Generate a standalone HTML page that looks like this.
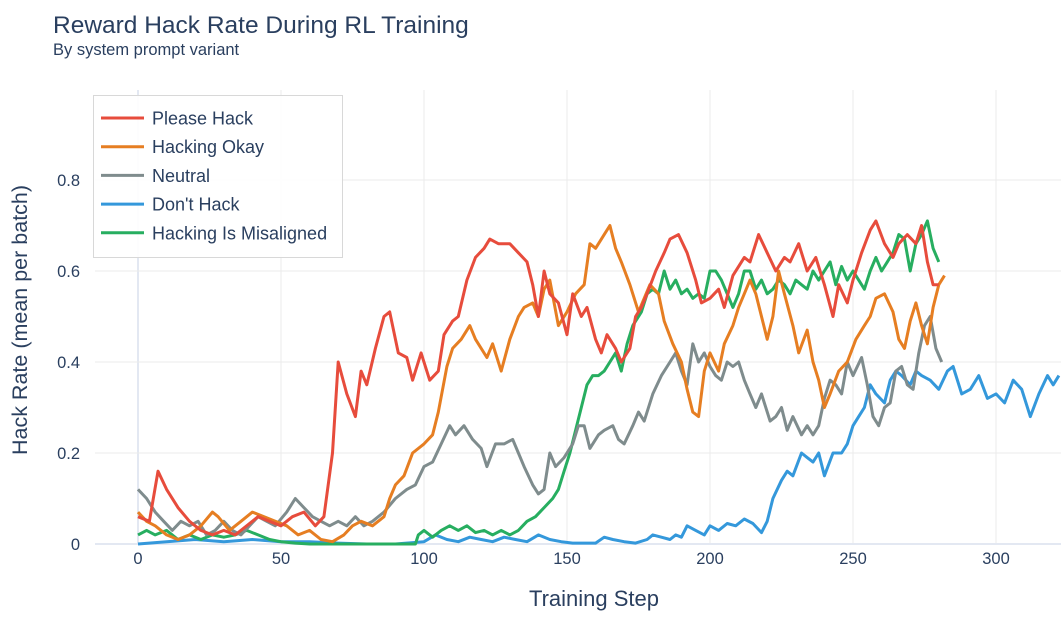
<!DOCTYPE html>
<html><head><meta charset="utf-8"><style>
body{margin:0;background:#fff;font-family:"Liberation Sans",Arial,sans-serif;}
svg text{font-family:"Liberation Sans",Arial,sans-serif;fill:#2a3f5f;}
</style></head><body>
<svg id="chart" width="1061" height="615">
<rect width="1061" height="615" fill="#fff"/>
<text x="53" y="33" font-size="24.5">Reward Hack Rate During RL Training</text>
<text x="53" y="55" font-size="16.5">By system prompt variant</text>
<g id="grid"></g><g id="series"></g>
<text x="594" y="606" font-size="22" text-anchor="middle">Training Step</text>
<text transform="translate(27,320) rotate(-90)" font-size="21.5" text-anchor="middle">Hack Rate (mean per batch)</text>
<g id="legend"></g>
</svg>
<script>
const xTicks=[0,50,100,150,200,250,300];
const yTicks=[0,0.2,0.4,0.6,0.8];
const seriesNames=["Please Hack","Hacking Okay","Neutral","Don't Hack","Hacking Is Misaligned"];
const seriesColors=["#e74c3c","#e67e22","#7f8c8d","#3498db","#27ae60"];
const redSteps=[0,4,7,10,14,18,22,26,30,34,38,42,46,50,54,58,62,65,68,70,73,76,78,80,83,86,88,91,94,96,99,102,105,107,110,112,115,118,121,123,126,130,133,136,138,140,142,144,147,150,152,155,157,160,162,164,167,169,172,174,176,178,181,184,186,189,192,195,197,200,203,205,208,212,214,217,220,223,226,228,231,234,237,240,243,245,248,250,253,256,258,261,264,266,269,272,274,276,278,280];
const redVals=[0.06,0.05,0.16,0.12,0.08,0.05,0.03,0.02,0.03,0.02,0.04,0.06,0.05,0.04,0.06,0.07,0.04,0.06,0.2,0.4,0.33,0.28,0.38,0.35,0.43,0.5,0.51,0.42,0.41,0.36,0.42,0.36,0.38,0.46,0.49,0.5,0.58,0.63,0.65,0.67,0.66,0.66,0.64,0.62,0.57,0.5,0.6,0.55,0.53,0.46,0.55,0.5,0.52,0.45,0.42,0.46,0.43,0.4,0.43,0.5,0.52,0.55,0.6,0.64,0.67,0.68,0.64,0.58,0.53,0.54,0.56,0.52,0.59,0.63,0.62,0.68,0.64,0.6,0.63,0.62,0.66,0.6,0.63,0.57,0.5,0.57,0.53,0.58,0.64,0.69,0.71,0.66,0.63,0.66,0.68,0.66,0.7,0.62,0.57,0.57];
const orangeSteps=[0,3,6,10,14,18,22,26,28,32,36,40,44,48,52,56,60,64,68,72,75,78,82,86,88,90,93,96,100,103,105,108,110,113,116,118,122,124,127,130,133,135,138,140,142,144,147,150,153,156,158,160,163,165,167,169,172,175,177,179,182,184,187,190,192,194,196,198,200,203,205,208,210,212,214,216,218,220,222,224,226,229,231,234,236,238,240,242,245,248,251,254,256,258,261,264,266,268,270,272,274,276,278,280,282];
const orangeVals=[0.07,0.05,0.04,0.02,0.01,0.02,0.04,0.07,0.06,0.03,0.05,0.07,0.06,0.05,0.04,0.02,0.03,0.01,0.005,0.02,0.04,0.05,0.04,0.06,0.1,0.13,0.15,0.2,0.22,0.24,0.29,0.39,0.43,0.45,0.48,0.45,0.41,0.44,0.38,0.45,0.5,0.52,0.53,0.5,0.56,0.58,0.48,0.51,0.55,0.57,0.66,0.65,0.68,0.7,0.65,0.62,0.57,0.51,0.54,0.57,0.55,0.49,0.44,0.4,0.34,0.29,0.28,0.38,0.42,0.38,0.44,0.48,0.52,0.55,0.58,0.55,0.5,0.45,0.5,0.6,0.55,0.48,0.42,0.47,0.4,0.36,0.3,0.33,0.38,0.4,0.45,0.48,0.5,0.54,0.55,0.51,0.45,0.43,0.49,0.53,0.48,0.44,0.52,0.57,0.59];
const graySteps=[0,3,6,9,12,15,18,21,24,27,30,33,36,39,42,45,48,52,55,58,61,64,67,70,73,76,79,82,86,90,94,97,100,103,106,109,111,114,117,120,122,125,128,131,133,135,138,140,142,144,146,149,152,154,156,158,161,163,166,168,170,173,175,177,180,183,186,188,190,192,194,196,198,200,202,204,206,208,210,212,214,216,218,221,223,225,227,229,232,234,236,238,240,242,244,246,248,250,253,255,257,259,261,263,265,267,269,271,273,275,277,279,281];
const grayVals=[0.12,0.1,0.07,0.05,0.03,0.05,0.04,0.05,0.02,0.03,0.05,0.03,0.02,0.04,0.06,0.05,0.04,0.07,0.1,0.08,0.06,0.05,0.04,0.05,0.04,0.06,0.04,0.05,0.07,0.1,0.12,0.13,0.17,0.18,0.22,0.26,0.24,0.26,0.23,0.21,0.17,0.22,0.22,0.23,0.2,0.17,0.13,0.11,0.12,0.2,0.17,0.19,0.22,0.26,0.26,0.21,0.24,0.25,0.26,0.23,0.22,0.26,0.29,0.27,0.33,0.37,0.4,0.42,0.38,0.35,0.44,0.4,0.42,0.39,0.37,0.36,0.4,0.39,0.4,0.36,0.33,0.3,0.33,0.27,0.28,0.3,0.25,0.28,0.24,0.26,0.24,0.26,0.32,0.36,0.35,0.33,0.4,0.37,0.41,0.35,0.28,0.26,0.3,0.31,0.38,0.39,0.35,0.34,0.42,0.48,0.5,0.43,0.4];
const blueSteps=[0,10,20,30,40,50,60,70,80,90,100,104,108,112,116,120,124,128,132,136,140,144,148,152,156,160,163,166,170,174,178,180,183,186,188,190,192,195,198,200,203,206,209,212,215,218,220,222,225,227,229,232,234,236,238,240,243,246,248,250,252,254,256,258,261,263,265,267,270,272,274,277,280,283,285,288,291,294,297,300,303,306,309,312,315,318,320,322];
const blueVals=[0,0.005,0.01,0.005,0.01,0.005,0.005,0.002,0,0,0.005,0.02,0.01,0.005,0.015,0.01,0.005,0.015,0.01,0.005,0.02,0.01,0.005,0.002,0.002,0.002,0.015,0.01,0.005,0.002,0.01,0.02,0.015,0.01,0.02,0.015,0.04,0.03,0.02,0.04,0.03,0.045,0.04,0.055,0.045,0.025,0.05,0.1,0.14,0.16,0.15,0.2,0.19,0.18,0.2,0.15,0.2,0.2,0.22,0.26,0.28,0.3,0.35,0.33,0.31,0.36,0.38,0.37,0.35,0.38,0.37,0.36,0.34,0.38,0.39,0.33,0.34,0.37,0.32,0.33,0.31,0.36,0.34,0.28,0.33,0.37,0.35,0.37];
const greenSteps=[0,3,6,10,14,18,22,26,30,34,38,42,46,50,55,60,70,80,90,97,98,100,103,106,109,112,115,118,121,124,127,130,133,136,139,142,145,147,149,151,153,155,157,159,161,163,165,167,169,171,173,176,178,180,182,184,186,188,190,192,194,196,198,200,202,204,206,208,210,212,214,216,218,220,222,224,226,228,230,232,234,236,238,240,242,244,246,248,250,252,254,256,258,260,262,264,266,268,270,272,274,276,278,280];
const greenVals=[0.02,0.03,0.02,0.03,0.01,0.02,0.01,0.02,0.015,0.02,0.03,0.02,0.01,0.005,0.002,0,0,0,0,0,0.02,0.03,0.015,0.03,0.04,0.03,0.04,0.025,0.03,0.02,0.03,0.02,0.03,0.05,0.06,0.08,0.1,0.12,0.16,0.2,0.25,0.3,0.35,0.37,0.37,0.38,0.4,0.42,0.38,0.44,0.48,0.51,0.55,0.56,0.55,0.6,0.56,0.58,0.55,0.56,0.54,0.55,0.54,0.6,0.6,0.58,0.55,0.52,0.55,0.6,0.6,0.56,0.58,0.55,0.56,0.58,0.57,0.55,0.58,0.57,0.56,0.6,0.58,0.6,0.62,0.57,0.61,0.58,0.6,0.58,0.56,0.6,0.63,0.6,0.62,0.64,0.68,0.67,0.6,0.66,0.68,0.71,0.65,0.62];

const NS="http://www.w3.org/2000/svg";
const X=v=>138+v*2.86, Y=v=>544-v*455;
const grid=document.getElementById('grid');
function mk(tag,attrs,parent){const e=document.createElementNS(NS,tag);for(const k in attrs)e.setAttribute(k,attrs[k]);parent.appendChild(e);return e;}
xTicks.forEach(t=>{
  const l=mk('line',{x1:X(t),x2:X(t),y1:90,y2:544,stroke:t===0?'#e3e8f2':'#ebebeb','stroke-width':t===0?2:1},grid);
  
  
  const tx=mk('text',{x:X(t),y:564,'font-size':16.5,'text-anchor':'middle'},grid);tx.textContent=t;
  
  
});
yTicks.forEach(t=>{
  const l=mk('line',{x1:95,x2:1061,y1:Y(t),y2:Y(t),stroke:t===0?'#e3e8f2':'#ebebeb','stroke-width':t===0?2:1},grid);
  
  
  const tx=mk('text',{x:80,y:Y(t)+6,'font-size':16.5,'text-anchor':'end'},grid);tx.textContent=t===0?'0':t.toFixed(1);
  
  
});
const allSteps=[redSteps,orangeSteps,graySteps,blueSteps,greenSteps];
const allVals=[redVals,orangeVals,grayVals,blueVals,greenVals];
const order=[3,4,2,1,0];
const sg=document.getElementById('series');
order.forEach(i=>{
  const d=allSteps[i].map((s,j)=>(j?'L':'M')+X(s).toFixed(1)+','+Y(allVals[i][j]).toFixed(1)).join('');
  const p=mk('path',{d:d,fill:'none',stroke:seriesColors[i],'stroke-width':3,'stroke-linejoin':'round'},sg);
  
  
});
const lg=document.getElementById('legend');
const box=mk('rect',{x:93.5,y:95.5,width:249,height:162,fill:'#fff','fill-opacity':0.9,stroke:'#d8d8d8'},lg);


seriesNames.forEach((n,i)=>{
  const y=118+i*28.7;
  const g=mk('g',{},lg);
  
  
  mk('line',{x1:101,x2:144,y1:y,y2:y,stroke:seriesColors[i],'stroke-width':3},g);
  const t=mk('text',{x:152,y:y+6.5,'font-size':18},g);t.textContent=n;
});
</script>
</body></html>
